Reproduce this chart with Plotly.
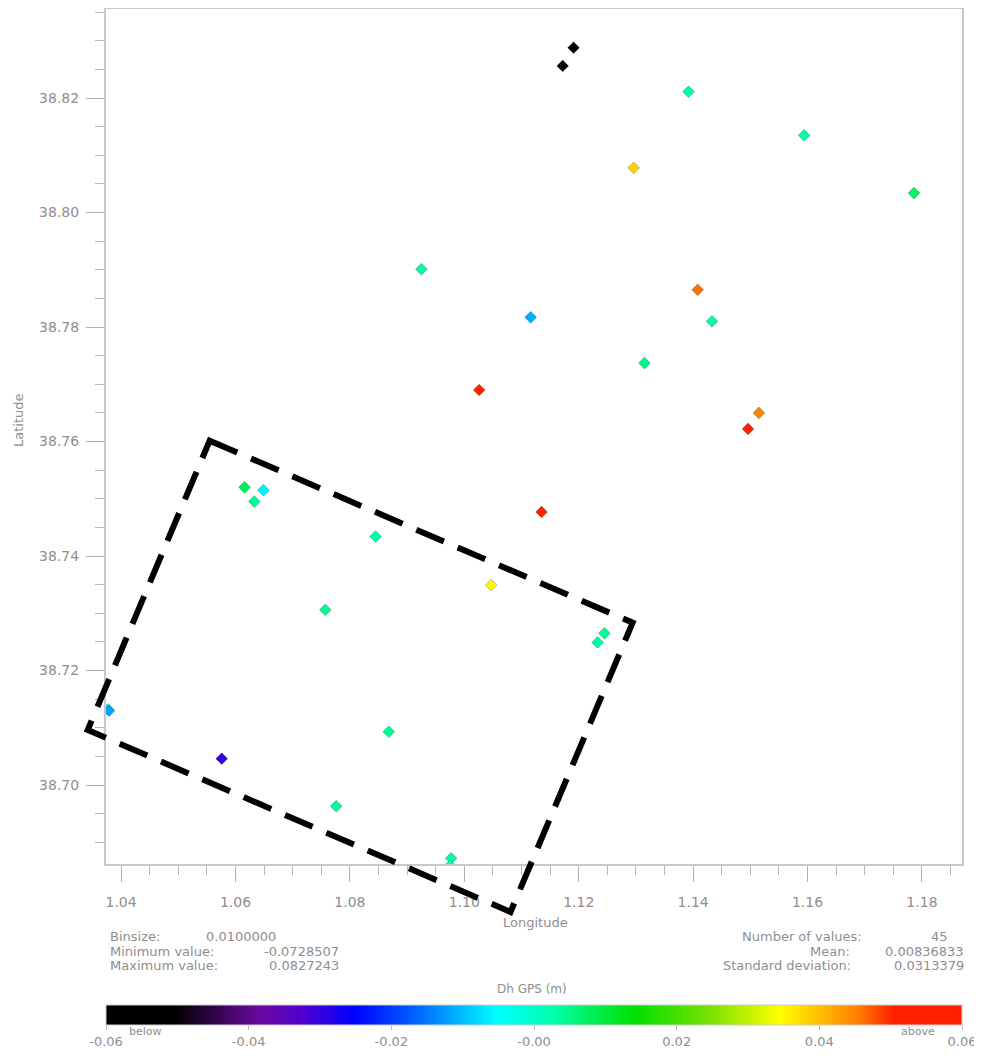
import plotly.graph_objects as go

# ---------------- data ----------------
lon = [1.1191, 1.1172, 1.1392, 1.1594, 1.1296, 1.1786, 1.0925, 1.1116, 1.1408, 1.1433,
       1.1315, 1.1026, 1.1515, 1.1496, 1.1135, 1.0616, 1.0649, 1.0633, 1.0845, 1.0757,
       1.1047, 1.1245, 1.1233, 1.0377, 1.0379, 1.0868, 1.0576, 1.0776, 1.0977, 1.0975]
lat = [38.8288, 38.8256, 38.8211, 38.8135, 38.8078, 38.8034, 38.7901, 38.7817, 38.7865, 38.7810,
       38.7737, 38.7690, 38.7650, 38.7622, 38.7477, 38.7520, 38.7515, 38.7495, 38.7434, 38.7306,
       38.7349, 38.7265, 38.7249, 38.7132, 38.7130, 38.7093, 38.7046, 38.6963, 38.6872, 38.6859]
dh = [-0.0729, -0.0650, 0.003, 0.003, 0.038, 0.007, 0.003, -0.011, 0.046, 0.003,
      0.005, 0.052, 0.045, 0.065, 0.0827, 0.008, -0.006, 0.004, 0.003, 0.004,
      0.035, 0.004, 0.003, -0.002, -0.012, 0.004, -0.030, 0.004, 0.003, 0.002]

# dashed box corners (lon, lat)
box_lon = [1.05549, 1.12943, 1.10808, 1.03417]
box_lat = [38.76014, 38.72835, 38.67782, 38.70961]

cbar_vals = [-0.06, -0.04, -0.02, 0.0, 0.02, 0.04, 0.06]
cbar_text = ["-0.06", "-0.04", "-0.02", "-0.00", "0.02", "0.04", "0.06"]

stats_left = [("Binsize:", "0.0100000"), ("Minimum value:", "-0.0728507"), ("Maximum value:", "0.0827243")]
stats_right = [("Number of values:", "45"), ("Mean:", "0.00836833"), ("Standard deviation:", "0.0313379")]

# ---------------- layout constants ----------------
OFF = 8                      # page offset of the figure (body margin)
W, H = 974, 1053
L, R, T, B = 98, 954, 1, 856  # plot frame in figure pixels
xr = [1.03737, 1.1870]
yr = [38.6862, 38.83555]

def px(x):   # page pixel -> paper x
    return (x - OFF - L) / (R - L)

def py(y):   # page pixel -> paper y
    return (B - (y - OFF)) / (B - T)

colorscale = [
    [0.0, "#000000"], [0.08, "#000000"], [0.18, "#6a0aa0"], [0.23, "#5000d0"],
    [0.29, "#0000ff"], [0.37, "#0070ff"], [0.457, "#00ffff"], [0.52, "#00ffb0"],
    [0.617, "#00e000"], [0.70, "#70e000"], [0.787, "#ffff00"], [0.877, "#ff8000"],
    [0.92, "#ff2000"], [1.0, "#ff2000"],
]

gray = "#8e8e8e"
fnt = "DejaVu Sans"

fig = go.Figure()
fig.add_trace(go.Scatter(
    x=lon, y=lat, mode="markers",
    marker=dict(
        symbol="diamond", size=9, color=dh, colorscale=colorscale,
        cmin=-0.06, cmax=0.06,
        line=dict(width=0.8, color="rgba(0,0,0,0.3)"),
        showscale=True,
        colorbar=dict(
            orientation="h", xref="paper", yref="container",
            x=0.5, xanchor="center",
            y=(H - (1005 - OFF)) / H, yanchor="top",
            len=1, lenmode="fraction", thickness=20, thicknessmode="pixels",
            xpad=0, ypad=0,
            tickvals=cbar_vals, ticktext=cbar_text,
            ticks="outside", ticklen=5, tickcolor="#bbbbbb",
            tickfont=dict(family=fnt, size=13, color=gray),
            outlinewidth=1, outlinecolor="#cccccc",
        ),
    ),
    hoverinfo="skip", showlegend=False,
))

# dashed box (converted through the axis ranges to paper coords so it is not clipped)
def to_paper_x(v):
    return (v - xr[0]) / (xr[1] - xr[0])

def to_paper_y(v):
    return (v - yr[0]) / (yr[1] - yr[0])

path = "M " + " L ".join(f"{to_paper_x(a):.5f},{to_paper_y(b):.5f}" for a, b in zip(box_lon, box_lat)) + " Z"
fig.add_shape(type="path", path=path, xref="paper", yref="paper",
              line=dict(color="black", width=6, dash="30px,15px"), layer="above")

ann = []
def add_text(text, x, y, xanchor="left", size=13, angle=0):
    ann.append(dict(text=text, x=px(x), y=py(y), xref="paper", yref="paper",
                    xanchor=xanchor, yanchor="middle", showarrow=False, textangle=angle,
                    font=dict(family=fnt, size=size, color=gray)))

add_text("Latitude", 18, 420, "center", 13, -90)
add_text("Longitude", 535, 922, "center", 13)
ys = [936, 951, 965]
for (lab, val), y in zip(stats_left, ys):
    add_text(lab, 108, y, "left", 13)
add_text(stats_left[0][1], 204, ys[0], "left", 13)
add_text(stats_left[1][1], 341, ys[1], "right", 13)
add_text(stats_left[2][1], 341, ys[2], "right", 13)
rx_lab = [864, 852, 853]
for (lab, val), y, rx in zip(stats_right, ys, rx_lab):
    add_text(lab, rx, y, "right", 13)
add_text(stats_right[0][1], 950, ys[0], "right", 13)
add_text(stats_right[1][1], 966, ys[1], "right", 13)
add_text(stats_right[2][1], 966, ys[2], "right", 13)
add_text("Dh GPS (m)", 532, 989, "center", 12)
add_text("below", 145, 1031, "center", 11)
add_text("above", 918, 1031, "center", 11)

axis_common = dict(
    showline=True, linecolor="#c8c8c8", linewidth=2, mirror=True,
    showgrid=False, zeroline=False, ticks="outside", tickcolor="#b0b0b0", tickwidth=1,
    tickformat=".2f", tickfont=dict(family=fnt, size=14, color=gray),
)

fig.update_layout(
    width=W, height=H,
    margin=dict(l=L, r=W - R, t=T, b=H - B, autoexpand=False),
    plot_bgcolor="white", paper_bgcolor="white",
    xaxis=dict(range=xr, tick0=1.04, dtick=0.02, ticklen=16, ticklabelstandoff=8,
               minor=dict(dtick=0.005, tick0=1.04, ticklen=9, ticks="outside", tickcolor="#b8b8b8"),
               **axis_common),
    yaxis=dict(range=yr, tick0=38.70, dtick=0.02, ticklen=18, ticklabelstandoff=4,
               minor=dict(dtick=0.005, tick0=38.70, ticklen=9, ticks="outside", tickcolor="#b8b8b8"),
               **axis_common),
    annotations=ann,
)

fig.write_html("out.html")
